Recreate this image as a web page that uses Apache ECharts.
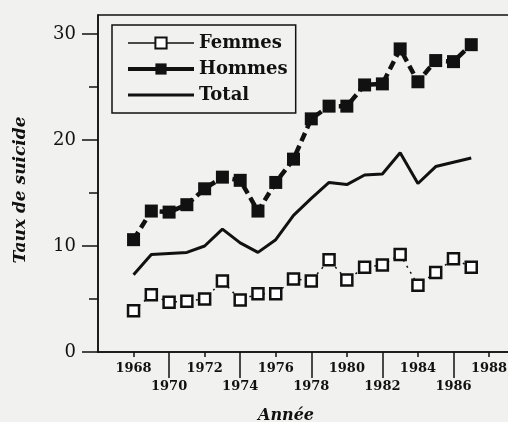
<!DOCTYPE html>
<html>
<head>
<meta charset="utf-8">
<script src="https://cdn.jsdelivr.net/npm/echarts@6/dist/echarts.min.js"></script>
<style>
  html, body { margin: 0; padding: 0; background: #f1f1ef; }
  #chart { width: 508px; height: 422px; }
</style>
</head>
<body>
<div id="chart"></div>
<script>
// années et taux
const years = [1968, 1969, 1970, 1971, 1972, 1973, 1974, 1975, 1976, 1977,
               1978, 1979, 1980, 1981, 1982, 1983, 1984, 1985, 1986, 1987];
const femmes = [3.9, 5.4, 4.7, 4.8, 5.0, 6.7, 4.9, 5.5, 5.5, 6.9,
                6.7, 8.7, 6.8, 8.0, 8.2, 9.2, 6.3, 7.5, 8.8, 8.0];
const hommes = [10.6, 13.3, 13.2, 13.9, 15.4, 16.5, 16.2, 13.3, 16.0, 18.2,
                22.0, 23.2, 23.2, 25.2, 25.3, 28.6, 25.5, 27.5, 27.4, 29.0];
const total = [7.3, 9.2, 9.3, 9.4, 10.0, 11.6, 10.3, 9.4, 10.6, 12.9,
               14.5, 16.0, 15.8, 16.7, 16.8, 18.8, 15.9, 17.5, 17.9, 18.3];

// graduations : une rangée haute (traits courts), une rangée basse (traits longs)
const xTopRow = [1968, 1972, 1976, 1980, 1984, 1988];
const xLowRow = [1970, 1974, 1978, 1982, 1986];
const yLabels = [0, 10, 20, 30];
const yMinorTicks = [5, 15, 25];

const ink = '#111';
const serif = 'DejaVu Serif';
const xMin = 1966, xMax = 1989.18;
const yMax = 31.8;

const pairs = (vals) => years.map((y, i) => [y, vals[i]]);

// un axe x par rangée d'étiquettes
const rowAxis = (values, tickLen, labelMargin, showLine) => ({
    type: 'value', min: xMin, max: xMax, position: 'bottom',
    axisLine: { show: showLine, lineStyle: { color: ink, width: 1.5 } },
    axisTick: { show: true, customValues: values, length: tickLen, lineStyle: { color: ink, width: 1.5 } },
    axisLabel: {
        show: true, customValues: values,
        showMinLabel: true, showMaxLabel: true,
        formatter: (v) => String(v),
        fontFamily: serif, fontWeight: 'bold', fontSize: 13, color: ink,
        margin: labelMargin
    },
    splitLine: { show: false }
});

const chart = echarts.init(document.getElementById('chart'));

chart.setOption({
    backgroundColor: '#f1f1ef',
    animation: false,
    grid: {
        left: 98, top: 15, right: -2, bottom: 70,
        outerBoundsMode: 'none',
        containLabel: false,
        show: true, borderColor: ink, borderWidth: 1.5,
        backgroundColor: 'transparent'
    },
    legend: {
        orient: 'vertical',
        left: 112, top: 25,
        padding: [8, 8, 8, 14],
        borderColor: ink, borderWidth: 1.5,
        itemWidth: 66, itemHeight: 14, itemGap: 6,
        textStyle: { fontFamily: serif, fontWeight: 'bold', fontSize: 18, color: ink, lineHeight: 20 },
        data: [
            { name: 'Femmes', lineStyle: { type: 'solid', width: 1.5 } },
            { name: 'Hommes', lineStyle: { type: 'solid', width: 4 } },
            { name: 'Total', lineStyle: { type: 'solid', width: 3 }, itemStyle: { opacity: 0 } }
        ]
    },
    xAxis: [
        rowAxis(xTopRow, 5, 10, true),
        rowAxis(xLowRow, 26, 28, false)
    ],
    yAxis: [{
        type: 'value', min: 0, max: yMax,
        axisLine: { show: true, lineStyle: { color: ink, width: 1.5 } },
        axisTick: { show: true, customValues: yLabels, length: 16, lineStyle: { color: ink, width: 1.5 } },
        axisLabel: { customValues: yLabels, fontFamily: serif, fontSize: 18, color: ink, margin: 22 },
        splitLine: { show: false }
    }, {
        type: 'value', min: 0, max: yMax, position: 'left',
        axisLine: { show: false },
        axisTick: { show: true, customValues: yMinorTicks, length: 9, lineStyle: { color: ink, width: 1.5 } },
        axisLabel: { show: false },
        splitLine: { show: false }
    }],
    graphic: [{
        type: 'text', x: 21, y: 190, rotation: Math.PI / 2,
        style: {
            text: 'Taux de suicide', fill: ink,
            font: 'italic bold 17px "DejaVu Serif"',
            align: 'center', verticalAlign: 'middle'
        }
    }, {
        type: 'text', x: 286, y: 416,
        style: {
            text: 'Année', fill: ink,
            font: 'italic bold 16px "DejaVu Serif"',
            align: 'center', verticalAlign: 'middle'
        }
    }],
    series: [{
        name: 'Femmes', type: 'line', data: pairs(femmes),
        symbol: 'rect', symbolSize: 11,
        itemStyle: { color: '#fff', borderColor: ink, borderWidth: 2.5 },
        lineStyle: { color: ink, width: 1.5, type: [2, 5] },
        z: 3
    }, {
        name: 'Hommes', type: 'line', data: pairs(hommes),
        symbol: 'rect', symbolSize: 13,
        itemStyle: { color: ink, borderColor: ink, borderWidth: 0 },
        lineStyle: { color: ink, width: 4.5, type: [9, 5] },
        z: 3
    }, {
        name: 'Total', type: 'line', data: pairs(total),
        symbol: 'none', showSymbol: false,
        lineStyle: { color: ink, width: 3 },
        itemStyle: { color: ink },
        z: 2
    }]
});
</script>
</body>
</html>
